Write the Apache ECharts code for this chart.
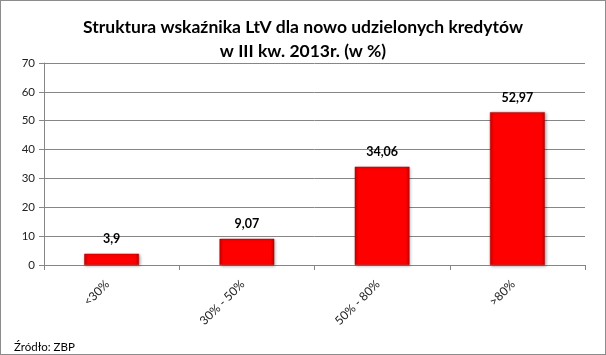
<!DOCTYPE html>
<html><head><meta charset="utf-8">
<script src="https://cdn.jsdelivr.net/npm/echarts@6/dist/echarts.min.js"></script>
<style>html,body{margin:0;padding:0;background:#fff}#c{width:606px;height:355px;box-sizing:border-box;border:1px solid #8c8c8c}</style>
</head><body><div id="c"></div>
<script>
const titleLines = ['Struktura wskaźnika LtV dla nowo udzielonych kredytów', 'w III kw. 2013r. (w %)'];
const categories = ['<30%', '30% - 50%', '50% - 80%', '>80%'];
const values = [3.9, 9.07, 34.06, 52.97];
const valueLabels = ['3,9', '9,07', '34,06', '52,97'];
const yTicks = [0, 10, 20, 30, 40, 50, 60, 70];
const sourceText = 'Źródło: ZBP';

const chart = echarts.init(document.getElementById('c'), null, {renderer: 'canvas'});
const font = 'Lato, "Open Sans", sans-serif';
chart.setOption({
  animation: false,
  backgroundColor: '#fff',
  title: [{
    text: titleLines.join('\n'), left: 'center', top: 9,
    textStyle: {fontFamily: font, fontSize: 17.5, fontWeight: 'bold', color: '#000', lineHeight: 24}
  }, {
    text: sourceText, left: 8, top: 335,
    textStyle: {fontFamily: font, fontSize: 11.5, fontWeight: 'normal', color: '#000'}
  }],
  grid: {left: 43, right: 20, top: 62, bottom: 89, containLabel: false},
  xAxis: {
    type: 'category', data: categories,
    axisLine: {lineStyle: {color: '#868686'}},
    axisTick: {show: true, alignWithLabel: false, length: 5, lineStyle: {color: '#868686'}},
    axisLabel: {rotate: 45, fontFamily: font, fontSize: 12, color: '#222', margin: 13, padding: [0, 6, 0, 0]}
  },
  yAxis: {
    type: 'value', min: yTicks[0], max: yTicks[yTicks.length - 1], interval: 10,
    axisLine: {show: true, lineStyle: {color: '#868686'}},
    axisTick: {show: true, length: 5, lineStyle: {color: '#868686'}},
    splitLine: {lineStyle: {color: '#868686'}},
    axisLabel: {fontFamily: font, fontSize: 11.5, color: '#222', margin: 9}
  },
  series: [{
    type: 'bar', barWidth: '40.5%',
    data: values.map(v => ({value: v})),
    itemStyle: {
      color: new echarts.graphic.LinearGradient(0, 0, 1, 0, [
        {offset: 0, color: '#d40000'}, {offset: 0.07, color: '#ff0000'},
        {offset: 0.93, color: '#ff0000'}, {offset: 1, color: '#c40000'}]),
      borderColor: '#b00000', borderWidth: 0.5,
      shadowColor: 'rgba(0,0,0,0.35)', shadowBlur: 3, shadowOffsetX: 1, shadowOffsetY: 1
    },
    label: {
      show: true, position: 'top', distance: 8,
      formatter: p => valueLabels[p.dataIndex],
      fontFamily: font, fontSize: 12.5, fontWeight: 'bold', color: '#000'
    }
  }]
});
</script></body></html>
